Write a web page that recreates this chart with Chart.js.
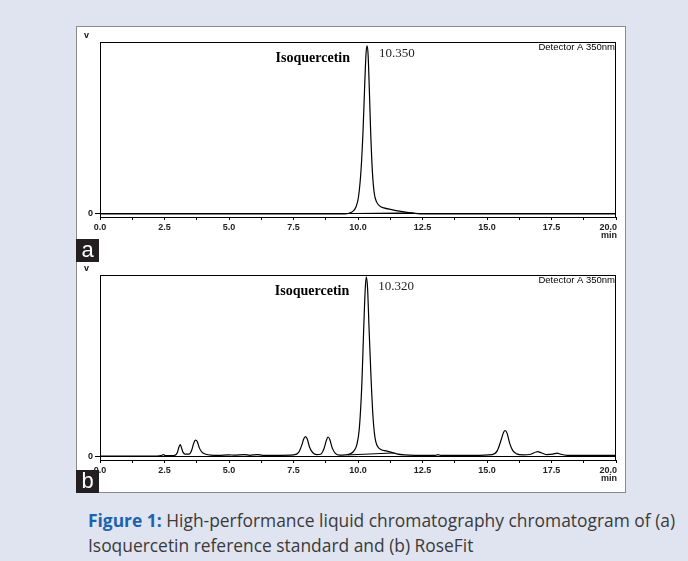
<!DOCTYPE html>
<html>
<head>
<meta charset="utf-8">
<script src="https://cdn.jsdelivr.net/npm/chart.js@4.4.1/dist/chart.umd.min.js"></script>
<style>
    body { margin: 0; background: #e0e4f1; }
    #page { position: relative; width: 688px; height: 561px; background: #e0e4f1; overflow: hidden; }
    #panel { position: absolute; left: 76px; top: 26px; width: 548px; height: 465px; background: #fff; border: 1px solid #8a8a8a; }
    canvas { position: absolute; left: 76px; }
    #chartA { top: 26px; }
    #chartB { top: 262px; }
    .tag { position: absolute; left: 76px; width: 23px; height: 23px; background: #231f20; color: #fff;
           font: 22px "Liberation Sans", Arial, sans-serif; text-align: center; line-height: 21px; z-index: 2; }
    #tagA { top: 239px; }
    #tagB { top: 470px; }
    #caption { position: absolute; left: 88px; top: 508px; width: 600px; font: 17.4px "Open Sans", sans-serif;
               line-height: 25px; color: #3a3a3a; white-space: nowrap; }
    #caption b { color: #1c63ae; }
</style>
</head>
<body>
<div id="page">
    <div id="panel"></div>
    <canvas id="chartA" width="550" height="213"></canvas>
    <canvas id="chartB" width="550" height="231"></canvas>
    <div class="tag" id="tagA">a</div>
    <div class="tag" id="tagB">b</div>
    <div id="caption"><b>Figure 1:</b> High-performance liquid chromatography chromatogram of (a)<br>Isoquercetin reference standard and (b) RoseFit</div>
</div>
<script>
// retention time (min) and signal (fraction of full scale)
const timeA = [0, 9.5, 9.65, 9.8, 9.92, 10.02, 10.12, 10.2, 10.26, 10.31, 10.35, 10.39, 10.44, 10.49, 10.56, 10.63,
    10.72, 10.85, 11.0, 11.3, 11.6, 11.9, 12.15, 12.4, 20];
const signalA = [0, 0, 0.004, 0.015, 0.04, 0.1, 0.26, 0.5, 0.75, 0.93, 0.977, 0.93, 0.72, 0.48, 0.24, 0.12,
    0.07, 0.045, 0.035, 0.025, 0.016, 0.009, 0.004, 0, 0];
const baseTimeA = [9.7, 12.15];
const baseSignalA = [0.002, 0.006];

const timeB = [0, 2.2, 2.4, 2.46, 2.52, 2.7, 2.9, 3.0, 3.06, 3.11, 3.16, 3.22, 3.3, 3.45, 3.55, 3.63, 3.7, 3.77,
    3.85, 3.95, 4.1, 4.3, 4.6, 5.0, 5.2, 5.6, 5.8, 6.1, 6.3, 7.0, 7.5, 7.7, 7.82, 7.9, 7.96, 8.03, 8.12, 8.25,
    8.4, 8.55, 8.68, 8.77, 8.84, 8.91, 9.0, 9.12, 9.3, 9.5, 9.7, 9.85, 9.95, 10.05, 10.15, 10.22, 10.28, 10.32,
    10.37, 10.43, 10.5, 10.58, 10.66, 10.75, 10.9, 11.1, 11.3, 11.5, 11.8, 12.2, 13.0, 13.1, 13.2, 14.5, 15.2,
    15.4, 15.55, 15.64, 15.7, 15.78, 15.88, 16.0, 16.15, 16.4, 16.7, 16.9, 16.97, 17.1, 17.3, 17.55, 17.72,
    17.85, 18.1, 20];
const signalB = [0, 0, 0.004, 0.008, 0.003, 0.002, 0.004, 0.02, 0.05, 0.063, 0.045, 0.02, 0.01, 0.01, 0.03, 0.07,
    0.088, 0.08, 0.045, 0.022, 0.01, 0.005, 0.004, 0.006, 0.005, 0.008, 0.004, 0.008, 0.004, 0.004, 0.006, 0.02,
    0.06, 0.095, 0.107, 0.095, 0.05, 0.018, 0.008, 0.01, 0.04, 0.085, 0.105, 0.09, 0.045, 0.015, 0.005, 0.006,
    0.012, 0.03, 0.06, 0.15, 0.4, 0.7, 0.92, 0.99, 0.93, 0.7, 0.45, 0.22, 0.1, 0.055, 0.035, 0.028, 0.02, 0.012,
    0.006, 0.004, 0.004, 0.008, 0.004, 0.004, 0.008, 0.03, 0.09, 0.13, 0.141, 0.125, 0.07, 0.03, 0.012, 0.006,
    0.01, 0.022, 0.024, 0.018, 0.008, 0.01, 0.016, 0.01, 0.004, 0.004];
const baseTimeB = [9.62, 11.4];
const baseSignalB = [0.006, 0.017];

const xTickValues = [0, 1.25, 2.5, 3.75, 5, 6.25, 7.5, 8.75, 10, 11.25, 12.5, 13.75, 15, 16.25, 17.5, 18.75, 20];
const xLabelValues = [0, 2.5, 5, 7.5, 10, 12.5, 15, 17.5, 20];
const xTickLabels = ['0.0', '2.5', '5.0', '7.5', '10.0', '12.5', '15.0', '17.5', '20.0'];
const peakTimes = [10.35, 10.32];
const peakLabels = ['10.350', '10.320'];
const compoundName = 'Isoquercetin';
const detectorLabel = 'Detector A 350nm';

function toPoints(xs, ys) {
    return xs.map((t, i) => ({ x: t, y: ys[i] }));
}

// frame, axis texts and peak annotations
const chromPlugin = {
    id: 'chromFrame',
    afterDraw(chart, args, opts) {
        const { ctx, chartArea: a, scales: { x } } = chart;
        ctx.save();
        ctx.strokeStyle = '#000';
        ctx.lineWidth = 1;
        ctx.strokeRect(Math.round(a.left) + 0.5, Math.round(a.top) + 0.5,
            Math.round(a.right - a.left) - 1, Math.round(a.bottom - a.top));
        ctx.fillStyle = '#111';
        ctx.textBaseline = 'middle';

        ctx.font = 'bold 9px "Liberation Sans", Arial';
        ctx.textAlign = 'center';
        ctx.fillText('v', a.left - 13.5, a.top - 6.5);

        ctx.font = '9.5px "Liberation Sans", Arial';
        ctx.fillStyle = '#000';
        ctx.textAlign = 'right';
        ctx.fillText(detectorLabel, a.right - 1, a.top + 5);

        const px = x.getPixelForValue(opts.peakTime);
        ctx.font = 'bold 14px "Liberation Serif", serif';
        ctx.fillText(compoundName, px - 17, a.top + 16);
        ctx.font = '13px "Liberation Serif", serif';
        ctx.fillStyle = '#222';
        ctx.textAlign = 'left';
        ctx.fillText(opts.peakLabel, px + 12, a.top + 12);

        ctx.font = 'bold 9px "Liberation Sans", Arial';
        ctx.fillStyle = '#222';
        xLabelValues.forEach((v, i) => {
            const last = i === xLabelValues.length - 1;
            ctx.textAlign = last ? 'right' : 'center';
            ctx.fillText(xTickLabels[i], last ? a.right + 1 : x.getPixelForValue(v), a.bottom + 11);
        });
        ctx.textAlign = 'right';
        ctx.fillText('min', a.right + 1, a.bottom + 19);
        ctx.restore();
    }
};

function createChart(canvasId, times, signals, baseTimes, baseSignals, peakIndex, padTop, xHeight, yMin) {
    const ctx = document.getElementById(canvasId).getContext('2d');
    return new Chart(ctx, {
        type: 'line',
        data: {
            datasets: [{
                data: toPoints(times, signals),
                borderColor: '#000',
                borderWidth: 1.2,
                cubicInterpolationMode: 'monotone',
                pointRadius: 0
            }, {
                data: toPoints(baseTimes, baseSignals),
                borderColor: '#000',
                borderWidth: 1,
                pointRadius: 0
            }]
        },
        options: {
            responsive: false,
            animation: false,
            layout: { padding: { top: padTop, right: 10, left: 0, bottom: 0 } },
            plugins: {
                legend: { display: false },
                tooltip: { enabled: false },
                chromFrame: { peakTime: peakTimes[peakIndex], peakLabel: peakLabels[peakIndex] }
            },
            scales: {
                x: {
                    type: 'linear',
                    min: 0,
                    max: 20,
                    afterBuildTicks: s => { s.ticks = xTickValues.map(v => ({ value: v })); },
                    ticks: { display: false },
                    grid: { drawOnChartArea: false, color: '#000', tickLength: 3 },
                    border: { color: '#000' },
                    afterFit: s => { s.height = xHeight; }
                },
                y: {
                    min: yMin,
                    max: 1,
                    afterBuildTicks: s => { s.ticks = [{ value: 0 }]; },
                    ticks: {
                        callback: v => '0',
                        color: '#111',
                        padding: 2,
                        font: { family: '"Liberation Sans", Arial', size: 9, weight: 'bold' }
                    },
                    grid: { color: '#000', tickLength: 5 },
                    border: { color: '#000' },
                    afterFit: s => { s.width = 24; }
                }
            }
        },
        plugins: [chromPlugin]
    });
}

createChart('chartA', timeA, signalA, baseTimeA, baseSignalA, 0, 16, 22, -0.018);
createChart('chartB', timeB, signalB, baseTimeB, baseSignalB, 1, 13, 33, -0.022);
</script>
</body>
</html>
